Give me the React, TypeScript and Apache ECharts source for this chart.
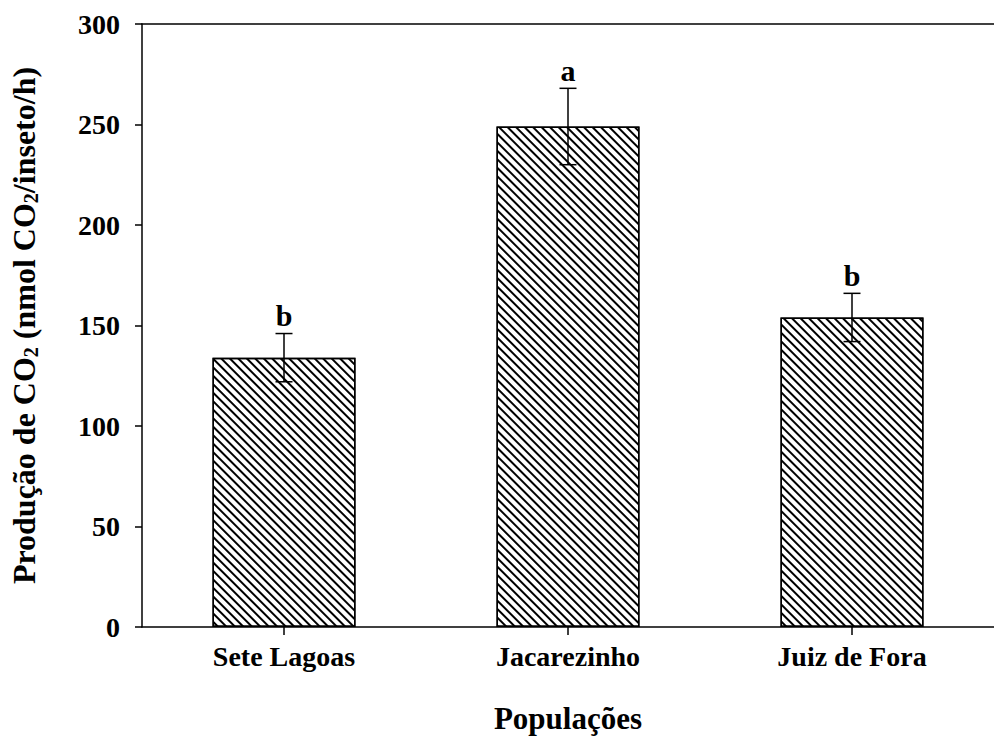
import React, { useEffect, useRef } from "react";
import * as echarts from "echarts";

const categories = ["Sete Lagoas", "Jacarezinho", "Juiz de Fora"];
const means = [134, 249, 154];
const errors = [12, 19, 12];
const letters = ["b", "a", "b"];
const yTicks = { min: 0, max: 300, interval: 50 };

const FONT = "'Liberation Serif', 'Times New Roman', serif";

export default function App() {
  const ref = useRef<HTMLDivElement>(null);
  useEffect(() => {
    if (!ref.current) return;
    const chart = echarts.init(ref.current, null, { renderer: "svg" });
    const errData = categories.map((_, i) => [i, means[i], errors[i]]);
    chart.setOption({
      animation: false,
      backgroundColor: "#fff",
      grid: { left: 140, top: 24, right: -10, bottom: 111, containLabel: false },
      xAxis: [
        {
          type: "category",
          data: categories,
          position: "bottom",
          axisLine: { show: true, lineStyle: { color: "#000", width: 1.5 } },
          axisTick: { show: true, alignWithLabel: true, length: 8, lineStyle: { color: "#000", width: 1.5 } },
          axisLabel: { color: "#000", fontFamily: FONT, fontWeight: "bold", fontSize: 28, margin: 15 },
          name: "Populações",
          nameLocation: "middle",
          nameGap: 76,
          nameTextStyle: { color: "#000", fontFamily: FONT, fontWeight: "bold", fontSize: 31 },
        },
        {
          type: "category",
          data: categories,
          position: "top",
          axisLine: { show: true, lineStyle: { color: "#000", width: 1.5 } },
          axisTick: { show: false },
          axisLabel: { show: false },
        },
      ],
      yAxis: {
        type: "value",
        min: yTicks.min,
        max: yTicks.max,
        interval: yTicks.interval,
        splitLine: { show: false },
        axisLine: { show: true, lineStyle: { color: "#000", width: 1.5 } },
        axisTick: { show: true, length: 7, lineStyle: { color: "#000", width: 1.5 } },
        axisLabel: { color: "#000", fontFamily: FONT, fontWeight: "bold", fontSize: 28, margin: 22 },
        name: "{m|Produção de CO}{s|2}{m| (nmol CO}{s|2}{m|/inseto/h)}",
        nameLocation: "middle",
        nameRotate: 90,
        nameGap: 101,
        nameTextStyle: {
          rich: {
            m: { fontFamily: FONT, fontWeight: "bold", fontSize: 32, color: "#000", lineHeight: 34 },
            s: { fontFamily: FONT, fontWeight: "bold", fontSize: 20, color: "#000", lineHeight: 22, verticalAlign: "bottom" },
          },
        },
      },
      series: [
        {
          type: "bar",
          data: means,
          barWidth: 143,
          itemStyle: {
            color: "#fff",
            borderColor: "#000",
            borderWidth: 1.5,
            decal: {
              symbol: "rect",
              symbolSize: 1,
              dashArrayX: [1, 0],
              dashArrayY: [1.1, 3.2],
              rotation: Math.PI / 4,
              color: "#000",
              backgroundColor: "#fff",
            },
          },
          emphasis: { disabled: true },
        },
        {
          type: "custom",
          data: errData,
          encode: { x: 0, y: 1 },
          z: 5,
          renderItem: (params: any, api: any) => {
            const i = api.value(0);
            const m = api.value(1);
            const e = api.value(2);
            const top = api.coord([i, m + e]);
            const bot = api.coord([i, m - e]);
            const hw = 8.5;
            const ls = { stroke: "#000", lineWidth: 1.5 };
            return {
              type: "group",
              children: [
                { type: "line", shape: { x1: top[0], y1: top[1], x2: bot[0], y2: bot[1] }, style: ls },
                { type: "line", shape: { x1: top[0] - hw, y1: top[1], x2: top[0] + hw, y2: top[1] }, style: ls },
                { type: "line", shape: { x1: bot[0] - hw, y1: bot[1], x2: bot[0] + hw, y2: bot[1] }, style: ls },
                {
                  type: "text",
                  x: top[0],
                  y: top[1] - 3,
                  style: {
                    text: letters[params.dataIndex],
                    fontFamily: FONT,
                    fontWeight: "bold",
                    fontSize: 30,
                    fill: "#000",
                    align: "center",
                    verticalAlign: "bottom",
                  },
                },
              ],
            };
          },
        },
      ],
    });
    return () => chart.dispose();
  }, []);
  return <div ref={ref} style={{ width: 994, height: 739, position: "absolute", left: 0, top: 0 }} />;
}
